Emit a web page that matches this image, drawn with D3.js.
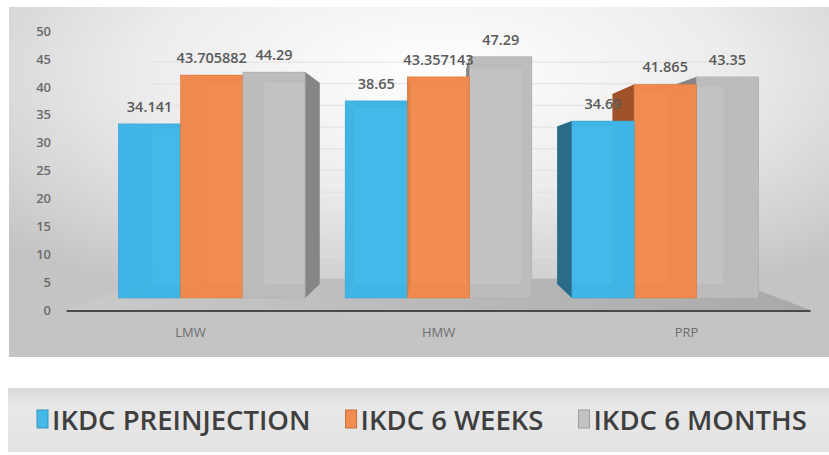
<!DOCTYPE html>
<html>
<head>
<meta charset="utf-8">
<script src="https://cdn.jsdelivr.net/npm/d3@7"></script>
<style>
  body { margin: 0; background: #fff; }
  svg { display: block; font-family: "Open Sans", "Liberation Sans", sans-serif; }
</style>
</head>
<body>
<main></main>
<script>
const categories = ["LMW", "HMW", "PRP"];
const seriesNames = ["IKDC PREINJECTION", "IKDC 6 WEEKS", "IKDC 6 MONTHS"];
const preinjection = [34.141, 38.65, 34.69];
const sixWeeks = [43.705882, 43.357143, 41.865];
const sixMonths = [44.29, 47.29, 43.35];
const yTicks = [0, 5, 10, 15, 20, 25, 30, 35, 40, 45, 50];

const width = 829, height = 455;
// perspective: everything shrinks toward a vanishing point
const vp = { x: 438, y: 170 };
const kFront = 1.094, kWall = 0.85, kBack = 0.89;
const proj = (x, y, k) => [vp.x + k * (x - vp.x), vp.y + k * (y - vp.y)];

const colors = [
    { front: "#44b9e8", side: "#2b6b88", inner: "#35a6d6" },
    { front: "#f28c50", side: "#a0532a", inner: "#e07c42" },
    { front: "#c2c2c2", side: "#858585", inner: "#a8a4a2" }
];

let series = [preinjection, sixWeeks, sixMonths]
let data = []
categories.forEach((c, i) => {
    series.forEach((s, j) => data.push({ cat: c, key: seriesNames[j], idx: j, value: s[i] }))
})

let svg = d3.select("main")
    .append("svg")
    .attr("width", width)
    .attr("height", height)

let defs = svg.append("defs")
let bg = defs.append("radialGradient").attr("id", "bg")
    .attr("cx", "0.52").attr("cy", "0.18").attr("r", "0.72")
bg.append("stop").attr("offset", "0").attr("stop-color", "#ffffff")
bg.append("stop").attr("offset", "0.5").attr("stop-color", "#ececec")
bg.append("stop").attr("offset", "1").attr("stop-color", "#c4c4c4")

let floorGrad = defs.append("linearGradient").attr("id", "floor")
floorGrad.append("stop").attr("offset", "0").attr("stop-color", "#cacaca")
floorGrad.append("stop").attr("offset", "1").attr("stop-color", "#a9a9a9")

let legGrad = defs.append("linearGradient").attr("id", "leg").attr("x2", 0).attr("y2", 1)
legGrad.append("stop").attr("offset", "0").attr("stop-color", "#d9d9d9")
legGrad.append("stop").attr("offset", "0.25").attr("stop-color", "#e8e8e8")
legGrad.append("stop").attr("offset", "1").attr("stop-color", "#e3e3e3")

// chart panel
svg.append("rect")
    .attr("x", 9).attr("y", 7)
    .attr("width", 820).attr("height", 350)
    .attr("fill", "url(#bg)")

// scales on the bar plane (k = 1)
let x0 = d3.scaleBand()
    .domain(categories)
    .range([98.5, 778.5])
    .paddingInner(0.177)
    .paddingOuter(0.088)

let x1 = d3.scaleBand()
    .domain(seriesNames)
    .range([0, x0.bandwidth()])

let y = d3.scaleLinear()
    .domain([0, 50])
    .range([298, 43])

// back wall gridlines
let wall = svg.append("g")
wall.selectAll("line")
    .data(yTicks.slice(1))
    .enter()
    .append("line")
    .attr("x1", proj(x0.range()[0], 0, kWall)[0])
    .attr("x2", proj(x0.range()[1], 0, kWall)[0])
    .attr("y1", d => proj(0, y(d), kWall)[1])
    .attr("y2", d => proj(0, y(d), kWall)[1])
    .attr("stroke", "#e0e0e0")
    .attr("stroke-width", 1)

// floor
let [xa, xb] = x0.range()
let floorPts = [proj(xa, y(0), kWall), proj(xb, y(0), kWall), proj(xb, y(0), kFront), proj(xa, y(0), kFront)]
svg.append("polygon")
    .attr("points", floorPts.map(p => p.join(",")).join(" "))
    .attr("fill", "url(#floor)")

svg.append("line")
    .attr("x1", proj(xa, y(0), kFront)[0])
    .attr("x2", proj(xb, y(0), kFront)[0])
    .attr("y1", proj(0, y(0), kFront)[1] + 1)
    .attr("y2", proj(0, y(0), kFront)[1] + 1)
    .attr("stroke", "#4a4a4a")
    .attr("stroke-width", 2)

// y axis on the front plane
let yFront = d3.scaleLinear()
    .domain([0, 50])
    .range([proj(0, y(0), kFront)[1], proj(0, y(50), kFront)[1]])

svg.append("g")
    .attr("transform", "translate(51, 0)")
    .call(d3.axisLeft(yFront).tickValues(yTicks).tickSize(0).tickPadding(0))
    .call(g => g.select(".domain").remove())
    .selectAll("text")
    .attr("font-size", 13)
    .attr("font-weight", 600)
    .attr("fill", "#6b6b6b")
    .attr("font-family", "Open Sans")

// category labels
svg.append("g")
    .selectAll("text")
    .data(categories)
    .enter()
    .append("text")
    .attr("x", d => proj(x0(d) + x0.bandwidth() / 2, 0, kFront)[0])
    .attr("y", 337)
    .attr("text-anchor", "middle")
    .attr("font-size", 13)
    .attr("fill", "#6f6f6f")
    .text(d => d)

// bars, farthest from the vanishing point first
let bars = data.map(d => {
    let xl = x0(d.cat) + x1(d.key), xr = xl + x1.bandwidth()
    return Object.assign({}, d, { xl, xr, yt: y(d.value), yb: y(0), cx: (xl + xr) / 2 })
}).sort((a, b) => Math.abs(b.cx - vp.x) - Math.abs(a.cx - vp.x))

let pts = arr => arr.map(p => p.join(",")).join(" ")

let barG = svg.append("g")
bars.forEach(b => {
    let g = barG.append("g")
    let c = colors[b.idx]
    let F = (x, yy) => proj(x, yy, 1)
    let B = (x, yy) => proj(x, yy, kBack)
    // back face and the inside faces, seen through the front
    g.append("polygon")
        .attr("points", pts([B(b.xl, b.yt), B(b.xr, b.yt), B(b.xr, b.yb), B(b.xl, b.yb)]))
        .attr("fill", c.front)
    g.append("polygon")
        .attr("points", pts([F(b.xl, b.yt), F(b.xr, b.yt), B(b.xr, b.yt), B(b.xl, b.yt)]))
        .attr("fill", c.inner)
    g.append("polygon")
        .attr("points", pts([F(b.xl, b.yb), F(b.xr, b.yb), B(b.xr, b.yb), B(b.xl, b.yb)]))
        .attr("fill", c.inner)
    let leftSide = [F(b.xl, b.yt), B(b.xl, b.yt), B(b.xl, b.yb), F(b.xl, b.yb)]
    let rightSide = [F(b.xr, b.yt), B(b.xr, b.yt), B(b.xr, b.yb), F(b.xr, b.yb)]
    let leftVisible = b.cx > vp.x
    g.append("polygon")
        .attr("points", pts(leftVisible ? rightSide : leftSide))
        .attr("fill", c.inner)
    g.append("polygon")
        .attr("points", pts(leftVisible ? leftSide : rightSide))
        .attr("fill", c.side)
    // front face, a bit see-through
    g.append("rect")
        .attr("x", b.xl)
        .attr("y", b.yt)
        .attr("width", b.xr - b.xl)
        .attr("height", b.yb - b.yt)
        .attr("fill", c.front)
        .attr("fill-opacity", 0.8)
        .attr("stroke", d3.color(c.front).darker(0.3))
        .attr("stroke-width", 0.6)
})

// value labels
svg.append("g")
    .selectAll("text")
    .data(bars)
    .enter()
    .append("text")
    .attr("x", d => d.cx)
    .attr("y", d => d.yt - 12)
    .attr("text-anchor", "middle")
    .attr("font-size", 14.5)
    .attr("font-weight", 600)
    .attr("fill", "#5a5a5a")
    .text(d => d.value)

// legend
svg.append("rect")
    .attr("x", 8).attr("y", 388)
    .attr("width", 821).attr("height", 64)
    .attr("fill", "url(#leg)")

let legend = svg.append("g").attr("transform", "translate(37, 430)")
let lx = 0
seriesNames.forEach((name, i) => {
    let item = legend.append("g").attr("transform", `translate(${lx}, 0)`)
    item.append("rect")
        .attr("x", 0).attr("y", -20)
        .attr("width", 11).attr("height", 18)
        .attr("fill", colors[i].front)
        .attr("stroke", d3.color(colors[i].front).darker(0.6))
        .attr("stroke-width", 1)
    let t = item.append("text")
        .attr("x", 15)
        .attr("font-size", 27.5)
        .attr("font-weight", 600)
        .attr("fill", "#3f3f3f")
        .text(name)
    lx += 15 + t.node().getComputedTextLength() + 35
})
</script>
</body>
</html>
